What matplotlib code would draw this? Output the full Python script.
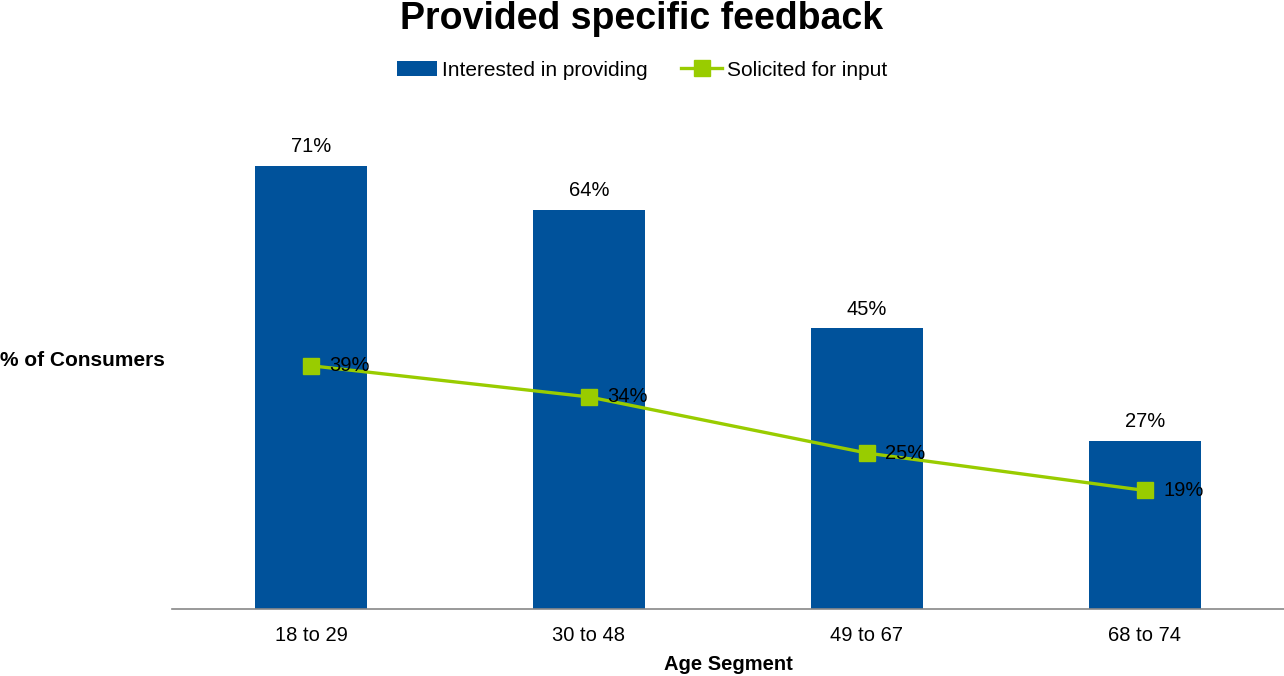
import matplotlib
matplotlib.use("Agg")
import matplotlib.pyplot as plt
import numpy as np

categories = ["18 to 29", "30 to 48", "49 to 67", "68 to 74"]
interested = [71, 64, 45, 27]
solicited = [39, 34, 25, 19]

plt.rcParams['font.family'] = ['Liberation Sans', 'DejaVu Sans']

BLUE = "#00529B"
GREEN = "#99CC00"

fig = plt.figure(figsize=(12.84, 6.76), dpi=100)
ax = fig.add_axes([172/1284, 67/676, 1 - 172/1284, (609-110)/676])

x = np.arange(len(categories))
bars = ax.bar(x, interested, width=0.4, color=BLUE, label="Interested in providing", zorder=2)
line, = ax.plot(x, solicited, color=GREEN, lw=2.4, marker="s", markersize=11,
                label="Solicited for input", zorder=3)

for xi, v in zip(x, interested):
    ax.annotate(f"{v}%", (xi, v), xytext=(0, 7), textcoords="offset points",
                ha="center", va="bottom", fontsize=14.5)
for xi, v in zip(x, solicited):
    ax.annotate(f"{v}%", (xi, v), xytext=(13, 0), textcoords="offset points",
                ha="left", va="center", fontsize=14.5, zorder=4)

ax.set_xlim(-0.5, len(categories) - 0.5)
ax.set_ylim(0, 80)
ax.set_xticks(x)
ax.set_xticklabels(categories, fontsize=14.5)
ax.tick_params(axis="x", length=0, pad=12)
ax.set_yticks([])
for s in ["top", "right", "left"]:
    ax.spines[s].set_visible(False)
ax.spines["bottom"].set_color("#888888")
ax.spines["bottom"].set_linewidth(1.2)

fig.text((172 + 1284) / 2 / 1284, 1 - 665/676, "Age Segment", ha="center", va="center",
         fontsize=14.5, fontweight="bold")
fig.text(0.0, 1 - 361/676, "% of Consumers", ha="left", va="center",
         fontsize=15, fontweight="bold")
fig.text(0.5, 1 - 19/676, "Provided specific feedback", ha="center", va="center",
         fontsize=27, fontweight="bold")

fig.legend(handles=[bars, line], loc="center", bbox_to_anchor=(0.5, 1 - 70/676),
           ncol=2, frameon=False, fontsize=15, handlelength=1.95, handleheight=0.7,
           handletextpad=0.25, columnspacing=1.6)

fig.savefig("out.png", dpi=100)
